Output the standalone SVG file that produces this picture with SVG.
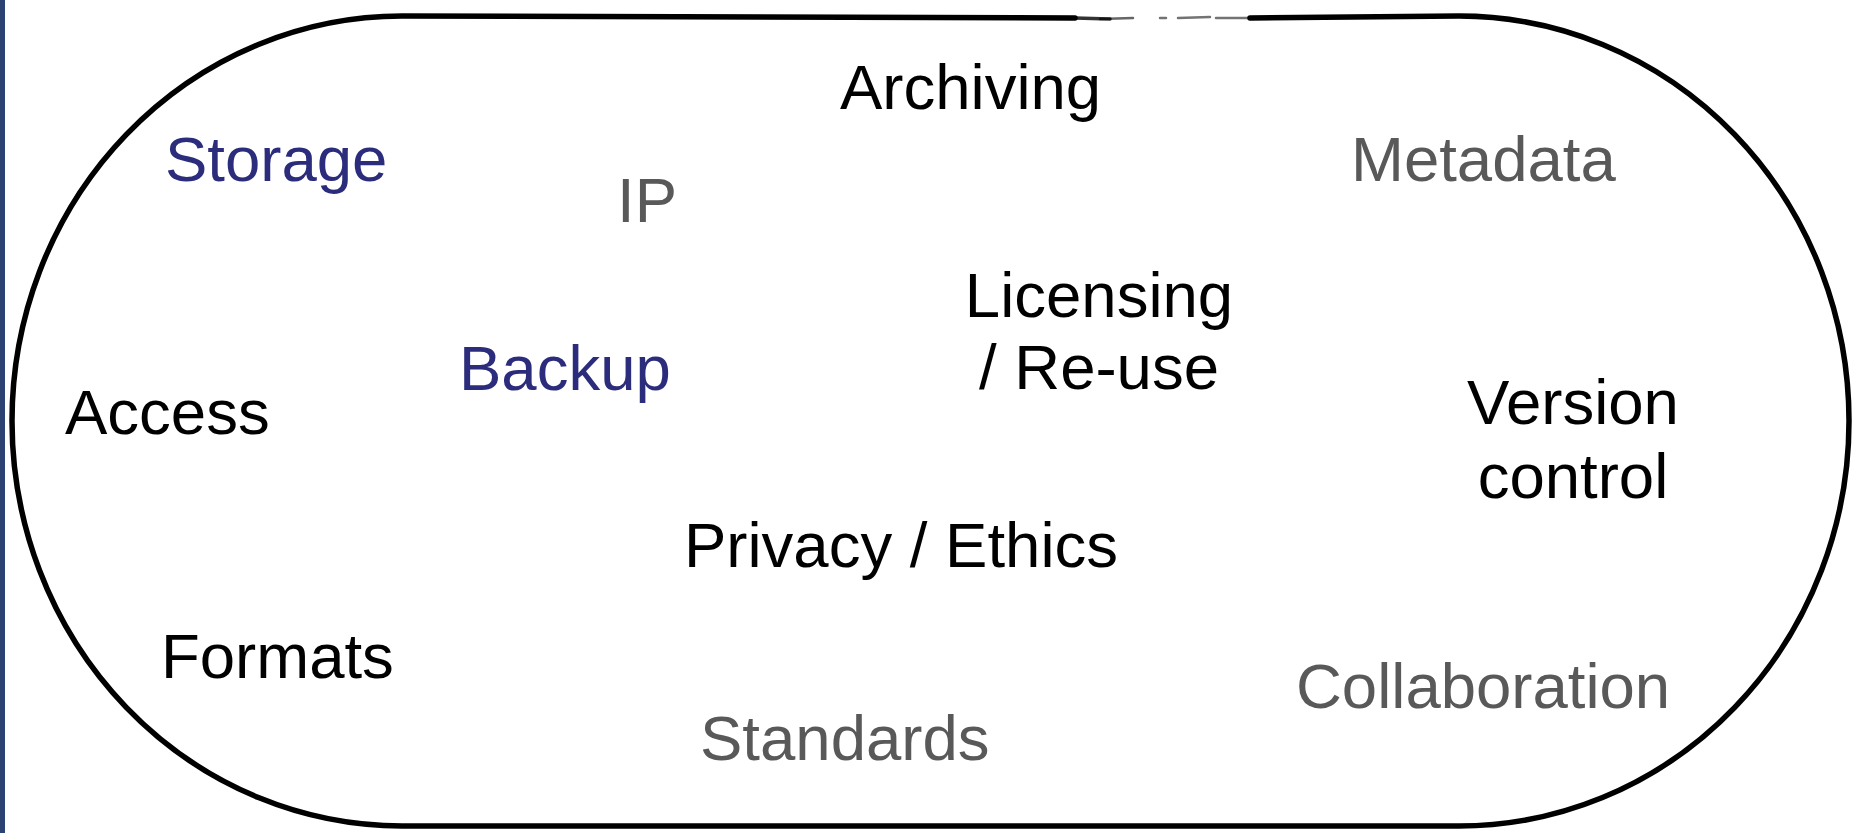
<svg xmlns="http://www.w3.org/2000/svg" width="1853" height="833" viewBox="0 0 1853 833">
  <style>
    .lbl { font-family: "Liberation Sans", Arial, sans-serif; font-size: 63.5px; }
    .dark { fill: #000000; }
    .grey { fill: #595959; }
    .navy { fill: #2c2c7c; }
    .outline { fill: none; stroke: #000000; stroke-width: 5.5; stroke-linecap: round; stroke-linejoin: round; }
    .faint { fill: none; stroke: #000000; stroke-linecap: round; }
  </style>

  <rect x="0" y="0" width="1853" height="833" fill="#ffffff"/>
  <!-- accent bar on the left edge -->
  <rect x="0" y="0" width="5" height="833" fill="#2b4272"/>

  <!-- hand-drawn stadium outline, open near the top centre -->
  <g id="boundary">
    <path class="outline" d="M 1075 18 L 402 16 A 390 405 0 0 0 12 421 A 390 405 0 0 0 402 826 L 1459 826 A 390 405 0 0 0 1849 421 A 390 405 0 0 0 1459 16 L 1250 18"/>
    <path class="faint" stroke-width="3.5" opacity="0.8" d="M 1075 18 L 1110 19"/>
    <path class="faint" stroke-width="2.5" opacity="0.6" d="M 1100 19 L 1133 18"/>
    <path class="faint" stroke-width="2.5" opacity="0.55" d="M 1160 18 L 1166 18 M 1178 18 L 1210 17 M 1216 18 L 1250 18"/>
  </g>

  <g id="labels">
    <g id="archiving"><text class="lbl dark" x="840" y="109">Archiving</text></g>
    <g id="storage"><text class="lbl navy" x="165" y="181">Storage</text></g>
    <g id="ip"><text class="lbl grey" x="617" y="222">IP</text></g>
    <g id="metadata"><text class="lbl grey" x="1351" y="181">Metadata</text></g>
    <g id="licensing">
      <text class="lbl dark" text-anchor="middle" x="1099" y="317">Licensing</text>
      <text class="lbl dark" text-anchor="middle" x="1099" y="389">/ Re-use</text>
    </g>
    <g id="backup"><text class="lbl navy" x="459" y="390">Backup</text></g>
    <g id="access"><text class="lbl dark" x="65" y="434">Access</text></g>
    <g id="version-control">
      <text class="lbl dark" text-anchor="middle" x="1573" y="424">Version</text>
      <text class="lbl dark" text-anchor="middle" x="1573" y="498">control</text>
    </g>
    <g id="privacy-ethics"><text class="lbl dark" x="684" y="567">Privacy / Ethics</text></g>
    <g id="formats"><text class="lbl dark" x="161" y="678">Formats</text></g>
    <g id="collaboration"><text class="lbl grey" x="1296" y="708">Collaboration</text></g>
    <g id="standards"><text class="lbl grey" x="700" y="760">Standards</text></g>
  </g>

  <g id="connectors"></g>
</svg>
